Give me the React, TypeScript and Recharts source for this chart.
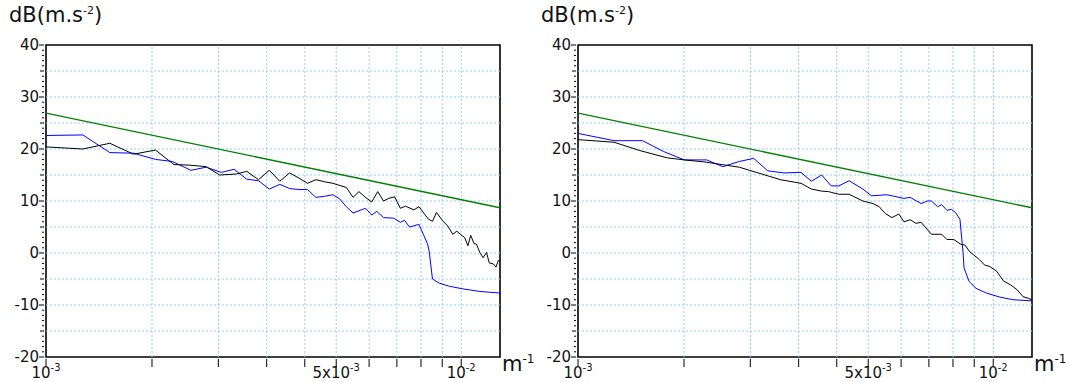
import { LineChart, Line, XAxis, YAxis, ReferenceLine, ReferenceArea } from 'recharts'

// frequencies in units of 1e-3 m^-1, levels in dB
const leftBlackF = [1.0, 1.227, 1.425, 1.624, 1.835, 2.034, 2.213, 2.431, 2.62, 2.877, 3.043, 3.249, 3.45, 3.657, 3.861, 4.068, 4.264, 4.467, 4.683, 4.907, 5.047, 5.289, 5.49, 5.669, 5.863, 6.087, 6.295, 6.5, 6.685, 6.914, 7.137, 7.34, 7.693, 7.912, 8.338, 8.527, 8.721, 9.022, 9.279, 9.543, 9.759, 10.06, 10.19, 10.38, 10.54, 10.74, 10.88, 11.09, 11.29, 11.51, 11.68, 11.95, 12.13, 12.29, 12.4]
const leftBlackDb = [20.4, 20.0, 21.1, 19.0, 19.8, 17.0, 16.9, 16.6, 15.0, 15.2, 15.7, 14.1, 15.9, 13.8, 15.4, 14.4, 13.4, 14.1, 13.7, 13.4, 13.1, 12.6, 10.7, 11.8, 10.8, 9.8, 11.8, 10.0, 10.5, 10.8, 8.6, 9.0, 8.3, 8.9, 6.5, 6.1, 7.8, 6.2, 5.2, 3.6, 4.2, 3.3, 3.0, 1.4, 3.4, 1.8, 1.7, 0.1, -0.9, 0.1, -1.9, -2.1, -2.7, -1.4, -1.6]
const leftBlueF = [1.0, 1.227, 1.425, 1.624, 1.835, 2.015, 2.234, 2.431, 2.644, 2.839, 3.043, 3.249, 3.45, 3.657, 3.861, 4.068, 4.264, 4.467, 4.683, 4.907, 5.095, 5.289, 5.49, 5.885, 6.087, 6.26, 6.5, 6.876, 7.137, 7.3, 7.507, 7.912, 8.291, 8.37, 8.527, 8.853, 9.366, 10.09, 11.09, 12.4]
const leftBlueDb = [22.6, 22.7, 19.3, 19.2, 18.0, 17.6, 15.9, 16.5, 15.5, 16.1, 14.2, 13.9, 12.3, 13.2, 12.4, 12.2, 12.2, 10.7, 10.9, 11.2, 10.4, 8.9, 7.7, 8.6, 7.3, 8.0, 6.8, 6.7, 5.9, 6.3, 5.0, 5.5, 1.8, 0.4, -5.0, -5.8, -6.4, -6.9, -7.4, -7.7]

const rightBlackF = [1.0, 1.221, 1.409, 1.64, 1.804, 2.022, 2.224, 2.446, 2.639, 2.903, 3.073, 3.445, 3.648, 3.862, 4.012, 4.247, 4.497, 4.853, 5.137, 5.316, 5.492, 5.704, 5.925, 6.097, 6.31, 6.516, 6.705, 7.099, 7.517, 7.734, 8.035, 8.347, 8.555, 8.787, 8.955, 9.268, 9.528, 9.811, 10.19, 10.59, 11.0, 11.43, 11.8, 12.14, 12.4]
const rightBlackDb = [21.8, 21.3, 19.7, 18.3, 17.9, 17.5, 17.0, 16.5, 15.7, 14.7, 14.1, 13.4, 12.3, 11.9, 11.8, 11.3, 11.3, 10.0, 9.5, 8.9, 7.6, 6.8, 7.5, 6.0, 6.4, 5.7, 5.9, 3.6, 3.6, 2.6, 2.6, 1.7, 1.5, 0.2, -0.3, -1.3, -2.3, -2.6, -3.5, -5.4, -6.1, -7.1, -8.4, -8.7, -9.0]
const rightBlueF = [1.0, 1.221, 1.43, 1.609, 1.804, 2.041, 2.232, 2.446, 2.649, 2.864, 3.132, 3.445, 3.648, 3.862, 4.073, 4.247, 4.497, 4.853, 5.089, 5.544, 6.097, 6.31, 6.705, 6.939, 7.099, 7.347, 7.517, 7.734, 7.929, 8.112, 8.315, 8.46, 8.508, 8.753, 9.093, 9.627, 10.39, 11.21, 12.4]
const rightBlueDb = [23.0, 21.6, 21.6, 19.5, 17.9, 17.9, 16.6, 17.6, 18.2, 15.8, 15.4, 15.5, 13.8, 15.0, 12.9, 12.9, 13.9, 12.3, 11.0, 11.2, 10.5, 10.7, 9.5, 10.0, 10.0, 8.9, 9.3, 8.2, 8.4, 7.8, 6.5, 0.1, -2.9, -5.5, -6.8, -7.7, -8.5, -9.0, -9.2]

const limitF = [1.0, 12.4]
const limitDb = [26.9, 8.7]

const X_TICKS = [0.001, 0.0018, 0.0026, 0.0034, 0.0042, 0.005, 0.006, 0.007, 0.008, 0.009, 0.01]
const X_LABELS: Record<string, [string, string]> = {
  '0.001': ['10', '-3'],
  '0.005': ['5x10', '-3'],
  '0.01': ['10', '-2']
}
const Y_GRID = [35, 30, 25, 20, 15, 10, 5, 0, -5, -10, -15]
const Y_TICKS = Array.from({ length: 61 }, (_, i) => 40 - i)

const X_MIN = 0.001
const X_MAX = 0.0124

const toPoints = (f: number[], db: number[]) => f.map((x, i) => ({ f: x * 1e-3, v: db[i] }))

function XTick({ x, y, payload }: any) {
  const lab = X_LABELS[String(payload.value)]
  return (
    <g>
      <line x1={x} x2={x} y1={y} y2={y + 8} stroke="#000" />
      {lab && (
        <text x={x} y={y + 19} textAnchor="middle" fontSize={15} fill="#111">
          <tspan>{lab[0]}</tspan>
          <tspan dy={-7} fontSize={10}>{lab[1]}</tspan>
        </text>
      )}
    </g>
  )
}

function YTick({ x, y, payload }: any) {
  const v = payload.value
  const len = v % 10 === 0 ? 5 : v % 5 === 0 ? 4 : 2
  return (
    <g>
      <line x1={x - len} x2={x} y1={y} y2={y} stroke="#000" />
      {v % 10 === 0 && (
        <text x={x - 5} y={y} dy={5} textAnchor="end" fontSize={15} fill="#111">
          {v}
        </text>
      )}
    </g>
  )
}

function Panel({ left, black, blue }: { left: number; black: any[]; blue: any[] }) {
  const green = toPoints(limitF, limitDb)
  return (
    <div style={{ position: 'absolute', left, top: 0, width: 532, height: 382 }}>
      <div style={{ position: 'absolute', left: 9, top: 3, fontSize: 21, color: '#111' }}>
        dB(m.s<sup style={{ fontSize: 11 }}>-2</sup>)
      </div>
      <div style={{ position: 'absolute', left: 502, top: 352, fontSize: 21, color: '#111' }}>
        m<sup style={{ fontSize: 12 }}>-1</sup>
      </div>
      <LineChart width={532} height={382} margin={{ top: 45, right: 32, bottom: 0, left: 0 }}>
        <XAxis
          dataKey="f"
          type="number"
          scale="log"
          domain={[X_MIN, X_MAX]}
          allowDataOverflow
          ticks={X_TICKS}
          interval={0}
          tick={<XTick />}
          tickLine={false}
          tickSize={0}
          axisLine={false}
          height={25}
        />
        <YAxis
          type="number"
          domain={[-20, 40]}
          ticks={Y_TICKS}
          interval={0}
          tick={<YTick />}
          tickLine={false}
          tickSize={0}
          axisLine={false}
          width={46}
        />
        {Y_GRID.map((g) => (
          <ReferenceLine key={'h' + g} y={g} stroke="#8fd0ff" strokeDasharray="2 2" />
        ))}
        {X_TICKS.slice(1).map((g) => (
          <ReferenceLine key={'v' + g} x={g} stroke="#8fd0ff" strokeDasharray="2 2" />
        ))}
        <Line data={green} dataKey="v" stroke="#008000" strokeWidth={1.4} dot={false} isAnimationActive={false} />
        <Line data={blue} dataKey="v" stroke="#0000ff" strokeWidth={1} dot={false} isAnimationActive={false} />
        <Line data={black} dataKey="v" stroke="#000" strokeWidth={1} dot={false} isAnimationActive={false} />
        <ReferenceArea x1={X_MIN} x2={X_MAX} y1={-20} y2={40} fill="none" stroke="#000" strokeWidth={1.6} ifOverflow="visible" />
      </LineChart>
    </div>
  )
}

export default function App() {
  return (
    <div
      style={{
        position: 'absolute',
        left: 0,
        top: 0,
        width: 1067,
        height: 382,
        background: '#fff',
        fontFamily: 'DejaVu Sans'
      }}
    >
      <Panel left={0} black={toPoints(leftBlackF, leftBlackDb)} blue={toPoints(leftBlueF, leftBlueDb)} />
      <Panel left={532} black={toPoints(rightBlackF, rightBlackDb)} blue={toPoints(rightBlueF, rightBlueDb)} />
    </div>
  )
}
